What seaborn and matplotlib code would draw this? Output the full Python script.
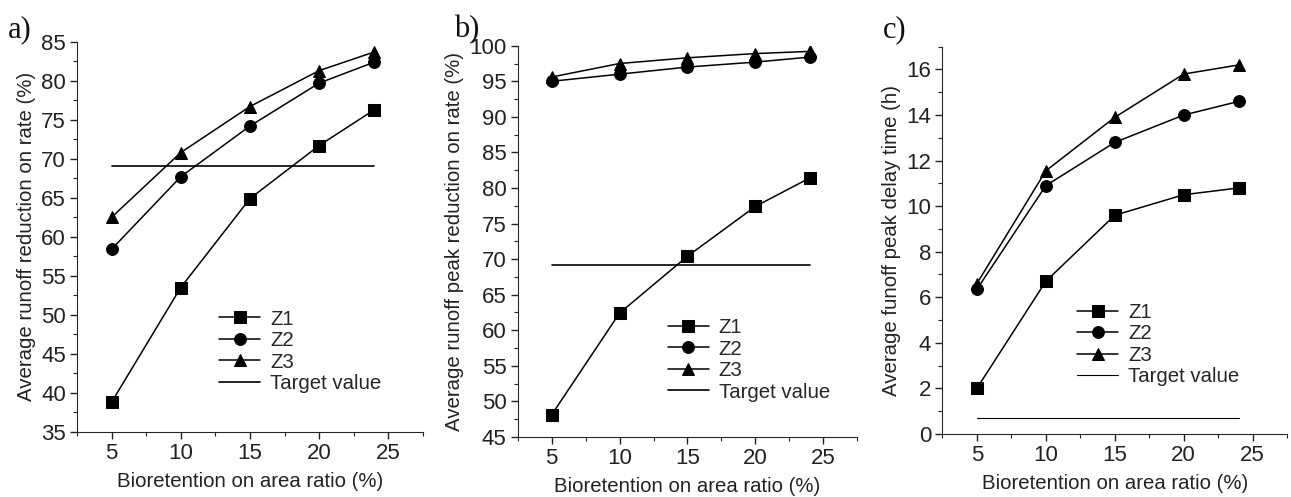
import numpy as np
import pandas as pd
import matplotlib
matplotlib.use("Agg")
import matplotlib.pyplot as plt
from matplotlib.ticker import MultipleLocator
import seaborn as sns

# datos
ratio = [5, 10, 15, 20, 24]
series = ["Z1", "Z2", "Z3"]

a_z1 = [38.8, 53.5, 64.9, 71.7, 76.3]
a_z2 = [58.4, 67.7, 74.2, 79.7, 82.4]
a_z3 = [62.5, 70.8, 76.7, 81.3, 83.7]
a_target = 69.1

b_z1 = [48.1, 62.4, 70.4, 77.4, 81.4]
b_z2 = [95.0, 96.0, 97.0, 97.7, 98.4]
b_z3 = [95.6, 97.5, 98.3, 98.9, 99.2]
b_target = 69.1

c_z1 = [2.0, 6.7, 9.6, 10.5, 10.8]
c_z2 = [6.35, 10.9, 12.8, 14.0, 14.6]
c_z3 = [6.6, 11.55, 13.9, 15.8, 16.2]
c_target = 0.7

sns.set_style("ticks")
plt.rcParams["font.family"] = ["Liberation Sans", "DejaVu Sans"]
plt.rcParams["xtick.color"] = "#222222"
plt.rcParams["ytick.color"] = "#222222"

markers = {"Z1": "s", "Z2": "o", "Z3": "^"}


def panel(ax, vals, target, ylim, ymaj, ylabel, leg_anchor, lw_target=1.2):
    df = pd.DataFrame({
        "x": ratio * 3,
        "y": vals[0] + vals[1] + vals[2],
        "serie": sum([[s] * len(ratio) for s in series], []),
    })
    for s in series:
        d = df[df["serie"] == s]
        sns.lineplot(data=d, x="x", y="y", ax=ax, color="black", lw=1.1,
                     marker=markers[s], markersize=8.5, markeredgecolor="black",
                     label=s)
    sns.lineplot(x=[ratio[0], ratio[-1]], y=[target, target], ax=ax,
                 color="black", lw=lw_target, label="Target value")
    ax.set_xlim(2.5, 27.5)
    ax.set_ylim(*ylim)
    ax.xaxis.set_major_locator(MultipleLocator(5))
    ax.xaxis.set_minor_locator(MultipleLocator(2.5))
    ax.yaxis.set_major_locator(MultipleLocator(ymaj))
    ax.yaxis.set_minor_locator(MultipleLocator(ymaj / 2))
    ax.tick_params(which="major", length=5, width=1, labelsize=16, pad=3)
    ax.tick_params(which="minor", length=3, width=0.8)
    ax.set_xlabel("Bioretention on area ratio (%)", fontsize=14.7,
                  color="#222222", labelpad=6)
    ax.set_ylabel(ylabel, fontsize=14.7, color="#222222", labelpad=4)
    sns.despine(ax=ax)
    ax.legend(loc="upper left", bbox_to_anchor=leg_anchor, frameon=False,
              fontsize=14.7, handlelength=2.0, handletextpad=0.5,
              labelspacing=0.12, borderpad=0.2)


fig = plt.figure(figsize=(12.91, 4.97), dpi=100)
ax1 = fig.add_axes([0.0596, 0.131, 0.268, 0.785])
ax2 = fig.add_axes([0.401, 0.121, 0.263, 0.787])
ax3 = fig.add_axes([0.730, 0.127, 0.267, 0.779])

panel(ax1, [a_z1, a_z2, a_z3], a_target, (35, 85), 5,
      "Average runoff reduction on rate (%)", (0.37, 0.35))
panel(ax2, [b_z1, b_z2, b_z3], b_target, (45, 100), 5,
      "Average runoff peak reduction on rate (%)", (0.40, 0.34))
panel(ax3, [c_z1, c_z2, c_z3], c_target, (0, 17), 2,
      "Average funoff peak delay time (h)", (0.35, 0.375), lw_target=0.8)

for x, t in [(0.006, "a)"), (0.352, "b)"), (0.684, "c)")]:
    fig.text(x, 0.925, t, family="Liberation Serif", fontsize=22, color="#111111")

fig.savefig("out.png", dpi=100)
